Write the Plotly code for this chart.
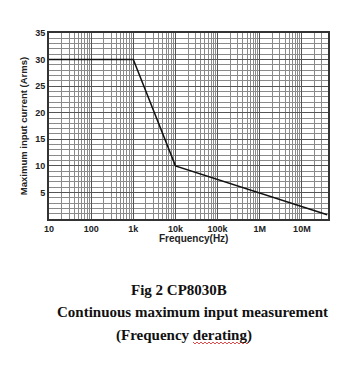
import plotly.graph_objects as go

freq_hz = [10, 1000, 10000, 40000000]
current_arms = [30, 30, 10, 0.8]
x_tick_vals = [10, 100, 1000, 10000, 100000, 1000000, 10000000]
x_tick_text = ["10", "100", "1k", "10k", "100k", "1M", "10M"]
y_tick_vals = [5, 10, 15, 20, 25, 30, 35]

fig = go.Figure()
fig.add_trace(go.Scatter(x=freq_hz, y=current_arms, mode="lines",
                         line=dict(color="#111111", width=1.5), showlegend=False))

W, H = 353, 366
L, R, T, B = 49, 25, 33, 147
fig.update_layout(
    width=W, height=H, margin=dict(l=L, r=R, t=T, b=B),
    paper_bgcolor="white", plot_bgcolor="white",
    font=dict(family="Liberation Sans, Arial", color="#222222"),
    xaxis=dict(type="log", range=[1, 7.62], tickvals=x_tick_vals, ticktext=x_tick_text,
               tickfont=dict(size=9, family="Liberation Sans", weight="bold"),
               showgrid=True, gridcolor="#555555", gridwidth=1,
               minor=dict(dtick="D1", showgrid=True, gridcolor="#8a8a8a", gridwidth=1, ticks=""),
               showline=True, linecolor="#333333", linewidth=2, mirror=True,
               ticks="", ticklen=0, zeroline=False),
    yaxis=dict(range=[0, 35], tickvals=y_tick_vals,
               tickfont=dict(size=9, family="Liberation Sans", weight="bold"),
               showgrid=True, gridcolor="#555555", gridwidth=1,
               minor=dict(dtick=1, showgrid=True, gridcolor="#8a8a8a", gridwidth=1, ticks=""),
               showline=True, linecolor="#333333", linewidth=2, mirror=True,
               ticks="", zeroline=False,
               title=dict(text="Maximum input current (Arms)", standoff=6,
                          font=dict(size=9.5, family="Liberation Sans", weight="bold"))),
)

def fx(x):
    return (x - L) / (W - L - R)

def fy(y):
    return (H - B - y) / (H - T - B)

fig.add_annotation(xref="paper", yref="paper", x=fx(193), y=fy(239), text="Frequency(Hz)",
                   showarrow=False, xanchor="center", yanchor="middle",
                   font=dict(size=10, family="Liberation Sans", color="#222222", weight="bold"))

captions = [("Fig 2 CP8030B", 179, 290), ("Continuous maximum input measurement", 192, 312),
            ("(Frequency derating)", 184, 335)]
for text, cx, cy in captions:
    fig.add_annotation(xref="paper", yref="paper", x=fx(cx), y=fy(cy), text=text, showarrow=False,
                       font=dict(size=15, family="Liberation Serif", color="#111111", weight="bold"),
                       xanchor="center", yanchor="middle")

# red spell-check squiggle under "derating"
xs0, xs1, ys = 193, 250, 343
pts = []
x = xs0
up = True
while x <= xs1:
    pts.append((x, ys - (1 if up else -1)))
    up = not up
    x += 2
path = "M " + " L ".join(f"{fx(a):.4f},{fy(b):.4f}" for a, b in pts)
fig.add_shape(type="path", xref="paper", yref="paper", path=path,
              line=dict(color="#d02020", width=0.8))

fig.write_html("out.html")
